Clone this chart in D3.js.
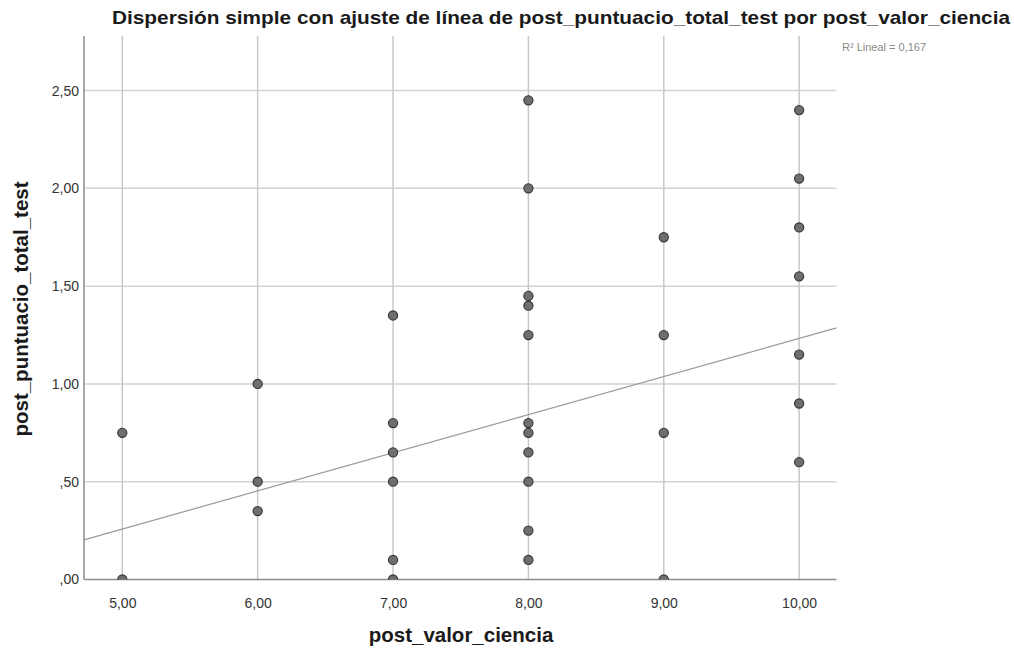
<!DOCTYPE html>
<html>
<head>
<meta charset="utf-8">
<script src="https://cdn.jsdelivr.net/npm/d3@7"></script>
<style>
  html, body { margin: 0; padding: 0; background: #ffffff; }
  svg { display: block; font-family: "Liberation Sans", Arial, sans-serif; }
</style>
</head>
<body>
<svg id="chart" width="1014" height="648"></svg>
<script>
// post_valor_ciencia (x) and post_puntuacio_total_test (y) per case
const valorCiencia = [
  5, 5,
  6, 6, 6,
  7, 7, 7, 7, 7, 7,
  8, 8, 8, 8, 8, 8, 8, 8, 8, 8, 8,
  9, 9, 9, 9,
  10, 10, 10, 10, 10, 10, 10
];
const puntuacioTotal = [
  0.75, 0.00,
  1.00, 0.50, 0.35,
  1.35, 0.80, 0.65, 0.50, 0.10, 0.00,
  2.45, 2.00, 1.45, 1.40, 1.25, 0.80, 0.75, 0.65, 0.50, 0.25, 0.10,
  1.75, 1.25, 0.75, 0.00,
  2.40, 2.05, 1.80, 1.55, 1.15, 0.90, 0.60
];
const xTicks = [5, 6, 7, 8, 9, 10];
const yTicks = [0, 0.5, 1, 1.5, 2, 2.5];
const xDomain = [4.717, 10.276];
const yDomain = [0, 2.779];
// linear fit: intercept, slope
const fitCoef = [-0.717, 0.195];
const rSquared = 0.167;

const titleText = "Dispersión simple con ajuste de línea de post_puntuacio_total_test por post_valor_ciencia";
const xLabel = "post_valor_ciencia";
const yLabel = "post_puntuacio_total_test";

const svg = d3.select("#chart");
const plot = { left: 84, right: 836.5, top: 36, bottom: 579.5 };

const x = d3.scaleLinear().domain(xDomain).range([plot.left, plot.right]);
const y = d3.scaleLinear().domain(yDomain).range([plot.bottom, plot.top]);

// SPSS-style decimal comma, no leading zero
const fmt = v => {
  const s = d3.format(".2f")(v).replace(".", ",");
  return s.startsWith("0,") ? s.slice(1) : s;
};

// horizontal grid
svg.append("g")
  .selectAll("line")
  .data(yTicks.filter(d => d > 0))
  .join("line")
  .attr("x1", plot.left).attr("x2", plot.right)
  .attr("y1", d => y(d)).attr("y2", d => y(d))
  .attr("stroke", "#d2d2d2").attr("stroke-width", 1.5);

// vertical grid
svg.append("g")
  .selectAll("line")
  .data(xTicks)
  .join("line")
  .attr("x1", d => x(d)).attr("x2", d => x(d))
  .attr("y1", plot.top).attr("y2", plot.bottom)
  .attr("stroke", "#c8c8c8").attr("stroke-width", 1.5);

// axes (labels only, no tick marks)
const xAxis = svg.append("g")
  .attr("transform", `translate(0,${plot.bottom})`)
  .call(d3.axisBottom(x).tickValues(xTicks).tickFormat(fmt).tickSize(0).tickPadding(19));
xAxis.select(".domain").remove();
xAxis.selectAll("text").attr("font-size", 14).attr("fill", "#333")
  .attr("font-family", "'Liberation Sans', Arial, sans-serif");

const yAxis = svg.append("g")
  .attr("transform", `translate(${plot.left},0)`)
  .call(d3.axisLeft(y).tickValues(yTicks).tickFormat(fmt).tickSize(0).tickPadding(5));
yAxis.select(".domain").remove();
yAxis.selectAll("text").attr("font-size", 14).attr("fill", "#333")
  .attr("font-family", "'Liberation Sans', Arial, sans-serif");

// axis lines
svg.append("line")
  .attr("x1", plot.left).attr("x2", plot.left)
  .attr("y1", plot.top).attr("y2", plot.bottom)
  .attr("stroke", "#8c8c8c").attr("stroke-width", 1.5);
svg.append("line")
  .attr("x1", plot.left).attr("x2", plot.right)
  .attr("y1", plot.bottom).attr("y2", plot.bottom)
  .attr("stroke", "#8c8c8c").attr("stroke-width", 1.5);

// fitted line across the plot
const fitLine = d3.line().x(d => x(d)).y(d => y(fitCoef[0] + fitCoef[1] * d));
svg.append("path")
  .attr("d", fitLine(xDomain))
  .attr("fill", "none")
  .attr("stroke", "#9a9a9a")
  .attr("stroke-width", 1.2);

// points
svg.append("clipPath").attr("id", "plotclip")
  .append("rect")
  .attr("x", plot.left - 10).attr("y", plot.top - 10)
  .attr("width", plot.right - plot.left + 20)
  .attr("height", plot.bottom - plot.top + 10);

svg.append("g").attr("clip-path", "url(#plotclip)")
  .selectAll("circle")
  .data(valorCiencia.map((v, i) => [v, puntuacioTotal[i]]))
  .join("circle")
  .attr("cx", d => x(d[0]))
  .attr("cy", d => y(d[1]))
  .attr("r", 4.6)
  .attr("fill", "#6e6e6e")
  .attr("stroke", "#333333")
  .attr("stroke-width", 1.1);

// R² annotation
svg.append("text")
  .attr("x", 842).attr("y", 51)
  .attr("font-size", 11).attr("fill", "#8a8a8a")
  .text("R² Lineal = " + d3.format(".3f")(rSquared).replace(".", ","));

// title
svg.append("text")
  .attr("x", 561).attr("y", 24)
  .attr("text-anchor", "middle")
  .attr("font-size", 19).attr("font-weight", "bold").attr("fill", "#1a1a1a")
  .attr("textLength", 898).attr("lengthAdjust", "spacingAndGlyphs")
  .text(titleText);

// axis titles
svg.append("text")
  .attr("x", 461).attr("y", 642)
  .attr("text-anchor", "middle")
  .attr("font-size", 20.5).attr("font-weight", "bold").attr("fill", "#1a1a1a")
  .text(xLabel);

svg.append("text")
  .attr("transform", `translate(28,309) rotate(-90)`)
  .attr("text-anchor", "middle")
  .attr("font-size", 20.5).attr("font-weight", "bold").attr("fill", "#1a1a1a")
  .text(yLabel);
</script>
</body>
</html>
